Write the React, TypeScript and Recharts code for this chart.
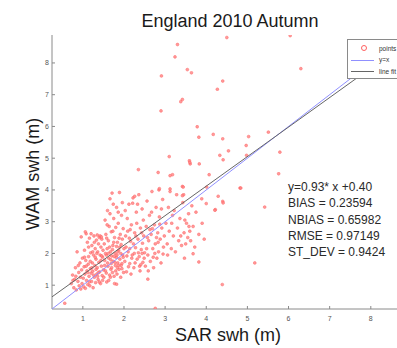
import { ComposedChart, Scatter, XAxis, YAxis } from 'recharts';

const FONT = '"Liberation Sans", Arial, Helvetica, sans-serif';

const xTicks = [1, 2, 3, 4, 5, 6, 7, 8];
const yTicks = [1, 2, 3, 4, 5, 6, 7, 8];
const axisMin = 0.25;
const axisMax = 8.88;

// fitted line reported in the figure
const fitSlope = 0.93;
const fitIntercept = 0.4;

const statLines = ['y=0.93* x +0.40', 'BIAS = 0.23594', 'NBIAS = 0.65982', 'RMSE = 0.97149', 'ST_DEV = 0.9424'];
const legendNames = ['points', 'y=x', 'line fit'];

// SAR swh vs WAM swh, by region
const ptsBelowOne = [
  [0.72, 1.05], [0.75, 1.32], [0.78, 0.92], [0.8, 1.18], [0.82, 1.55], [0.84, 0.85], [0.86, 2.05], [0.88, 1.12],
  [0.9, 1.4], [0.91, 0.98], [0.93, 1.7], [0.94, 1.25], [0.95, 0.88], [0.96, 2.52], [0.97, 1.48], [0.98, 1.05],
  [0.99, 1.85], [0.83, 1.28], [0.89, 1.62], [0.76, 1.15],
];

const ptsOneToOneHalf = [
  [1.01, 1.22], [1.02, 0.95], [1.03, 1.58], [1.04, 2.1], [1.05, 1.35], [1.06, 0.9], [1.07, 1.78], [1.08, 2.62],
  [1.09, 1.15], [1.1, 1.45], [1.11, 2.35], [1.12, 1.02], [1.13, 1.66], [1.14, 1.9], [1.15, 1.28], [1.16, 2.48],
  [1.17, 0.98], [1.18, 1.52], [1.19, 2.02], [1.2, 1.38], [1.21, 1.12], [1.22, 2.25], [1.23, 1.7], [1.24, 1.44],
  [1.25, 0.92], [1.26, 1.95], [1.27, 2.55], [1.28, 1.25], [1.29, 1.62], [1.3, 2.15], [1.31, 1.08], [1.32, 1.82],
  [1.33, 2.42], [1.34, 1.35], [1.35, 1.55], [1.36, 2.05], [1.37, 1.18], [1.38, 2.3], [1.39, 1.72], [1.4, 2.5],
  [1.41, 1.42], [1.42, 1.95], [1.43, 1.05], [1.44, 2.2], [1.45, 1.6], [1.46, 2.45], [1.47, 1.3], [1.48, 1.88],
  [1.49, 2.1], [1.5, 1.48], [1.12, 1.4], [1.18, 1.75], [1.24, 2.05], [1.32, 1.5], [1.38, 1.4], [1.44, 1.78],
  [1.08, 1.6], [1.16, 1.1], [1.28, 2.35], [1.36, 1.28], [1.42, 2.55], [1.48, 1.15], [1.04, 1.88], [1.22, 1.55],
  [1.34, 2.0], [1.46, 1.92], [1.14, 2.2], [1.26, 1.32], [1.4, 1.1], [1.3, 1.88], [1.06, 2.68], [1.2, 2.62],
  [1.35, 2.58], [1.45, 2.52],
];

const ptsOneHalfToTwo = [
  [1.51, 1.25], [1.52, 2.3], [1.53, 1.78], [1.54, 3.05], [1.55, 1.45], [1.56, 2.6], [1.57, 1.95], [1.58, 1.1],
  [1.59, 2.15], [1.6, 3.35], [1.61, 1.6], [1.62, 2.4], [1.63, 1.85], [1.64, 2.85], [1.65, 1.32], [1.66, 3.72],
  [1.67, 2.05], [1.68, 1.5], [1.69, 2.68], [1.7, 1.92], [1.71, 3.9], [1.72, 1.4], [1.73, 2.25], [1.74, 1.75],
  [1.75, 3.1], [1.76, 1.28], [1.77, 2.5], [1.78, 2.0], [1.79, 1.62], [1.8, 2.82], [1.81, 1.88], [1.82, 3.45],
  [1.83, 1.35], [1.84, 2.35], [1.85, 1.7], [1.86, 2.95], [1.87, 2.1], [1.88, 1.5], [1.89, 3.92], [1.9, 1.82],
  [1.91, 2.6], [1.92, 1.25], [1.93, 2.28], [1.94, 3.2], [1.95, 1.68], [1.96, 2.45], [1.97, 1.95], [1.98, 2.78],
  [1.99, 1.4], [2.0, 2.15], [1.55, 2.0], [1.6, 1.7], [1.65, 2.2], [1.7, 1.55], [1.75, 2.35], [1.8, 1.45],
  [1.85, 2.05], [1.9, 2.2], [1.95, 1.52], [1.58, 2.48], [1.63, 1.15], [1.68, 1.8], [1.73, 2.7], [1.78, 1.72],
  [1.83, 1.95], [1.88, 2.48], [1.93, 1.62], [1.98, 1.88], [1.53, 1.62], [1.67, 1.25], [1.72, 2.12], [1.77, 1.05],
  [1.82, 2.22], [1.87, 1.62], [1.62, 2.0], [1.57, 1.38], [1.69, 1.68], [1.76, 1.9], [1.84, 1.55], [1.92, 2.0],
  [1.66, 3.25], [1.74, 3.55], [1.86, 3.3], [1.96, 3.6], [1.59, 2.9],
];

const ptsTwoToTwoHalf = [
  [2.02, 1.75], [2.04, 2.55], [2.06, 1.42], [2.08, 3.1], [2.1, 2.05], [2.12, 3.55], [2.14, 1.68], [2.16, 2.38],
  [2.18, 2.9], [2.2, 1.95], [2.22, 3.75], [2.24, 1.55], [2.26, 2.65], [2.28, 2.18], [2.3, 3.3], [2.32, 1.82],
  [2.34, 2.45], [2.36, 3.85], [2.38, 1.6], [2.4, 2.8], [2.42, 2.12], [2.44, 3.4], [2.46, 1.72], [2.48, 2.55],
  [2.5, 2.02], [2.05, 2.2], [2.11, 1.58], [2.15, 2.75], [2.19, 1.85], [2.23, 2.3], [2.27, 1.7], [2.31, 2.95],
  [2.35, 2.02], [2.39, 1.45], [2.43, 2.65], [2.47, 3.05], [2.07, 1.92], [2.13, 2.48], [2.21, 3.58], [2.29, 2.55],
  [2.37, 1.9], [2.45, 2.32], [2.03, 3.35], [2.17, 1.35], [2.25, 2.0], [2.33, 3.55], [2.41, 1.65], [2.49, 1.85],
  [2.09, 2.7], [2.26, 3.8], [2.14, 2.15], [2.44, 2.0],
];

const ptsTwoHalfToThree = [
  [2.52, 1.6], [2.54, 2.85], [2.56, 3.65], [2.58, 1.95], [2.6, 2.4], [2.62, 3.2], [2.64, 1.75], [2.66, 2.6],
  [2.68, 3.95], [2.7, 2.15], [2.72, 1.55], [2.74, 2.9], [2.76, 2.3], [2.78, 3.45], [2.8, 1.85], [2.82, 2.65],
  [2.84, 2.05], [2.86, 3.15], [2.88, 2.45], [2.9, 1.7], [2.92, 2.8], [2.94, 3.7], [2.96, 2.2], [2.98, 2.55],
  [2.55, 2.15], [2.63, 2.75], [2.71, 1.88], [2.79, 2.5], [2.87, 2.92], [2.95, 1.98], [2.59, 1.45], [2.67, 3.3],
  [2.75, 2.0], [2.83, 2.35], [2.91, 3.4], [2.57, 2.5], [2.85, 4.0], [2.69, 2.78],
];

const ptsThreeToFour = [
  [3.02, 2.95], [3.05, 2.3], [3.08, 3.45], [3.1, 2.7], [3.12, 3.95], [3.15, 2.15], [3.18, 3.2], [3.2, 2.55],
  [3.22, 3.35], [3.25, 2.05], [3.28, 3.85], [3.3, 2.8], [3.33, 2.4], [3.36, 3.1], [3.4, 2.25], [3.43, 3.6],
  [3.46, 2.65], [3.48, 3.05], [3.5, 2.3], [3.52, 2.95], [3.55, 2.5], [3.57, 3.25], [3.6, 2.7], [3.62, 2.4],
  [3.65, 3.5], [3.68, 2.85], [3.72, 2.2], [3.06, 1.95], [3.38, 2.55], [3.58, 2.85], [3.45, 3.85], [3.16, 2.95],
  [3.75, 3.3], [3.82, 2.6], [3.9, 2.95], [3.95, 2.45],
];

const ptsOutliers = [
  [3.3, 8.58], [3.24, 8.19], [2.91, 7.59], [3.54, 7.79], [3.64, 7.69], [4.4, 7.43], [4.27, 7.17], [3.42, 6.85],
  [3.38, 6.78], [2.9, 6.49], [4.5, 8.8], [6.04, 8.86], [6.3, 7.82], [3.78, 5.99], [3.82, 5.66], [4.17, 5.75],
  [4.4, 5.61], [5.51, 5.82], [5.03, 5.68], [4.97, 5.4], [4.54, 5.23], [5.79, 5.19], [4.33, 5.09], [3.1, 5.05],
  [3.59, 4.92], [3.61, 4.82], [3.83, 4.82], [4.98, 5.09], [2.35, 4.64], [2.83, 4.55], [3.18, 4.48], [3.12, 4.45],
  [5.76, 4.51], [4.07, 4.48], [4.82, 4.06], [4.29, 3.8], [4.4, 3.64], [4.22, 3.38], [5.42, 3.46], [4.0, 3.57],
  [3.42, 4.11], [3.42, 3.82], [3.12, 4.03], [2.86, 4.04], [5.18, 1.7], [4.39, 1.02], [3.82, 1.73], [3.68, 1.99],
  [3.47, 1.85], [2.76, 0.27], [0.56, 0.43], [1.82, 1.03], [2.58, 1.19], [4.41, 4.95], [3.6, 4.87], [3.44, 4.09],
  [4.41, 3.59], [4.21, 3.36], [4.01, 4.09], [4.84, 4.06], [3.89, 3.72],
];

const points = [
  ...ptsBelowOne,
  ...ptsOneToOneHalf,
  ...ptsOneHalfToTwo,
  ...ptsTwoToTwoHalf,
  ...ptsTwoHalfToThree,
  ...ptsThreeToFour,
  ...ptsOutliers,
].map(([x, y]) => ({ x, y }));

const identityLine = [axisMin, axisMax].map((x) => ({ x, y: x }));
const fitLine = [axisMin, axisMax].map((x) => ({ x, y: fitSlope * x + fitIntercept }));

const AXIS = '#8a8a8a';

const BottomTick = (props: any) => {
  const { x, y, payload } = props;
  return (
    <g>
      <line x1={x} y1={y} x2={x} y2={y - 3} stroke={AXIS} />
      <text x={x} y={y + 12} textAnchor="middle" fontSize={7} fill="#555" fontFamily={FONT}>
        {payload.value}
      </text>
    </g>
  );
};

const TopTick = (props: any) => {
  const { x, y } = props;
  return <line x1={x} y1={y} x2={x} y2={y + 3} stroke={AXIS} />;
};

const LeftTick = (props: any) => {
  const { x, y, payload } = props;
  return (
    <g>
      <line x1={x} y1={y} x2={x + 3} y2={y} stroke={AXIS} />
      <text x={x - 3} y={y + 2.5} textAnchor="end" fontSize={7} fill="#555" fontFamily={FONT}>
        {payload.value}
      </text>
    </g>
  );
};

// MATLAB 'ro' markers look like soft pink-red dots at this size
const RedDot = (props: any) => {
  const { cx, cy } = props;
  return <circle cx={cx} cy={cy} r={1.4} fill="#ff8a8a" stroke="#ff5a5a" strokeWidth={0.6} opacity={0.85} />;
};

export default function App() {
  return (
    <div
      style={{
        position: 'absolute',
        left: 0,
        top: 0,
        width: 397,
        height: 348,
        overflow: 'hidden',
        background: '#fff',
        fontFamily: FONT,
      }}
    >
      <div style={{ position: 'absolute', left: 0, top: 0 }}>
        <ComposedChart width={420} height={348} margin={{ top: 35, right: 13, bottom: 0, left: 0 }}>
          <XAxis
            xAxisId="bottom"
            type="number"
            dataKey="x"
            domain={[axisMin, axisMax]}
            ticks={xTicks}
            allowDataOverflow
            height={39}
            tickSize={0}
            tickMargin={0}
            tickLine={false}
            axisLine={{ stroke: AXIS }}
            tick={<BottomTick />}
          />
          <XAxis
            xAxisId="top"
            orientation="top"
            type="number"
            dataKey="x"
            domain={[axisMin, axisMax]}
            ticks={xTicks}
            allowDataOverflow
            height={0}
            tickSize={0}
            tickMargin={0}
            tickLine={false}
            axisLine={{ stroke: AXIS }}
            tick={<TopTick />}
          />
          <YAxis
            type="number"
            dataKey="y"
            domain={[axisMin, axisMax]}
            ticks={yTicks}
            allowDataOverflow
            width={52}
            tickSize={0}
            tickMargin={0}
            tickLine={false}
            axisLine={{ stroke: AXIS }}
            tick={<LeftTick />}
          />
          <Scatter xAxisId="bottom" data={points} shape={<RedDot />} isAnimationActive={false} />
          <Scatter
            xAxisId="bottom"
            data={identityLine}
            line={{ stroke: '#9090ff', strokeWidth: 1 }}
            shape={() => <g />}
            isAnimationActive={false}
          />
          <Scatter
            xAxisId="bottom"
            data={fitLine}
            line={{ stroke: '#666', strokeWidth: 1 }}
            shape={() => <g />}
            isAnimationActive={false}
          />
        </ComposedChart>
      </div>

      <svg width={397} height={348} style={{ position: 'absolute', left: 0, top: 0, pointerEvents: 'none' }}>
        <text x={230} y={27} textAnchor="middle" fontSize={18} fill="#1a1a1a" fontFamily={FONT}>
          England 2010 Autumn
        </text>
        <text x={228} y={341} textAnchor="middle" fontSize={18} fill="#1a1a1a" fontFamily={FONT}>
          SAR swh (m)
        </text>
        <text
          x={0}
          y={0}
          transform="translate(39 174) rotate(-90)"
          textAnchor="middle"
          fontSize={18}
          fill="#1a1a1a"
          fontFamily={FONT}
        >
          WAM swh (m)
        </text>
        {statLines.map((s, i) => (
          <text key={s} x={288} y={191 + i * 16.3} fontSize={12} fill="#2a2a2a" fontFamily={FONT}>
            {s}
          </text>
        ))}
      </svg>

      <div
        style={{
          position: 'absolute',
          left: 347,
          top: 39,
          width: 80,
          height: 38,
          background: '#fff',
          border: '1px solid #8a8a8a',
        }}
      >
        <svg width={80} height={38}>
          <circle cx={16} cy={8} r={2.5} fill="none" stroke="#ff6060" strokeWidth={1} />
          <line x1={3} y1={20.5} x2={26} y2={20.5} stroke="#9090ff" strokeWidth={1} />
          <line x1={3} y1={31.5} x2={26} y2={31.5} stroke="#666" strokeWidth={1} />
          {legendNames.map((n, i) => (
            <text key={n} x={31} y={10.5 + i * 11.5} fontSize={6.5} fill="#333" fontFamily={FONT}>
              {n}
            </text>
          ))}
        </svg>
      </div>
    </div>
  );
}
